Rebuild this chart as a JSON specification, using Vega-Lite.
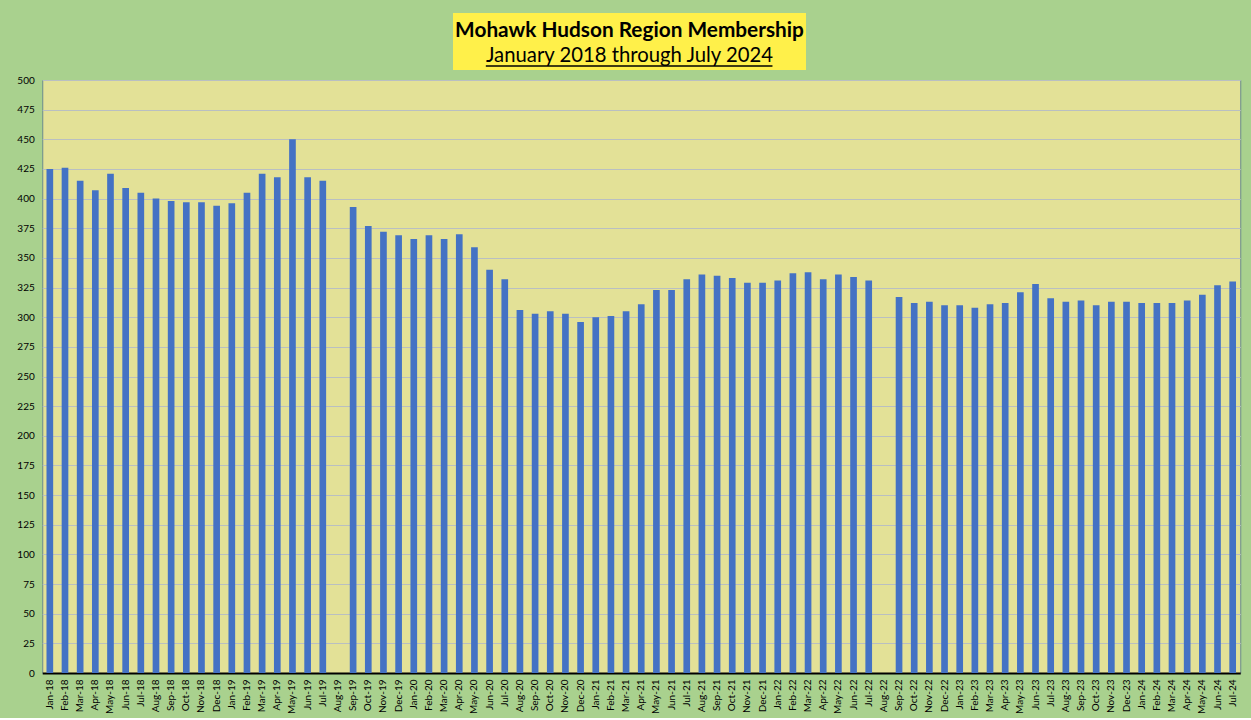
{
  "$schema": "https://vega.github.io/schema/vega-lite/v6.json",
  "background": "#a9d18e",
  "padding": {"left": 16, "top": 13, "right": 12, "bottom": 4},
  "autosize": {"type": "pad"},
  "center": true,
  "spacing": 4,
  "vconcat": [
    {
      "width": 353,
      "height": 57,
      "view": {"fill": "#fff04a", "stroke": null},
      "data": {"values": [{"title": "Mohawk Hudson Region Membership", "subtitle": "January 2018 through July 2024"}]},
      "layer": [
        {
          "mark": {"type": "text", "font": "Lato", "fontSize": 20.8, "fontWeight": "bold", "color": "#000000", "baseline": "middle", "align": "center", "dy": 2},
          "encoding": {
            "x": {"datum": 0.5, "type": "quantitative", "scale": {"domain": [0, 1]}, "axis": null},
            "y": {"datum": "title", "type": "nominal", "scale": {"type": "point", "domain": ["title", "subtitle"], "padding": 0.64},
                  "axis": {"orient": "right", "labels": false, "ticks": false, "domain": false, "grid": false, "title": null, "minExtent": 24, "maxExtent": 24}},
            "text": {"field": "title"}
          }
        },
        {
          "mark": {"type": "text", "font": "Lato", "fontSize": 20.3, "fontWeight": "normal", "color": "#000000", "baseline": "middle", "align": "center", "dy": 2},
          "encoding": {
            "x": {"datum": 0.5, "type": "quantitative"},
            "y": {"datum": "subtitle", "type": "nominal"},
            "text": {"field": "subtitle"}
          }
        },
        {
          "mark": {"type": "rule", "color": "#000000", "strokeWidth": 1.3, "yOffset": 12},
          "encoding": {
            "x": {"datum": 0.093, "type": "quantitative"},
            "x2": {"datum": 0.905},
            "y": {"datum": "subtitle", "type": "nominal"}
          }
        }
      ]
    },
    {
      "width": 1198,
      "height": 593,
      "view": {"fill": "#e3e197", "stroke": "#6a8a8e", "strokeWidth": 1},
      "data": {
        "values": [
          {"month": "Jan-18", "members": 425}, {"month": "Feb-18", "members": 426}, {"month": "Mar-18", "members": 415}, {"month": "Apr-18", "members": 407},
          {"month": "May-18", "members": 421}, {"month": "Jun-18", "members": 409}, {"month": "Jul-18", "members": 405}, {"month": "Aug-18", "members": 400},
          {"month": "Sep-18", "members": 398}, {"month": "Oct-18", "members": 397}, {"month": "Nov-18", "members": 397}, {"month": "Dec-18", "members": 394},
          {"month": "Jan-19", "members": 396}, {"month": "Feb-19", "members": 405}, {"month": "Mar-19", "members": 421}, {"month": "Apr-19", "members": 418},
          {"month": "May-19", "members": 450}, {"month": "Jun-19", "members": 418}, {"month": "Jul-19", "members": 415}, {"month": "Aug-19", "members": null},
          {"month": "Sep-19", "members": 393}, {"month": "Oct-19", "members": 377}, {"month": "Nov-19", "members": 372}, {"month": "Dec-19", "members": 369},
          {"month": "Jan-20", "members": 366}, {"month": "Feb-20", "members": 369}, {"month": "Mar-20", "members": 366}, {"month": "Apr-20", "members": 370},
          {"month": "May-20", "members": 359}, {"month": "Jun-20", "members": 340}, {"month": "Jul-20", "members": 332}, {"month": "Aug-20", "members": 306},
          {"month": "Sep-20", "members": 303}, {"month": "Oct-20", "members": 305}, {"month": "Nov-20", "members": 303}, {"month": "Dec-20", "members": 296},
          {"month": "Jan-21", "members": 300}, {"month": "Feb-21", "members": 301}, {"month": "Mar-21", "members": 305}, {"month": "Apr-21", "members": 311},
          {"month": "May-21", "members": 323}, {"month": "Jun-21", "members": 323}, {"month": "Jul-21", "members": 332}, {"month": "Aug-21", "members": 336},
          {"month": "Sep-21", "members": 335}, {"month": "Oct-21", "members": 333}, {"month": "Nov-21", "members": 329}, {"month": "Dec-21", "members": 329},
          {"month": "Jan-22", "members": 331}, {"month": "Feb-22", "members": 337}, {"month": "Mar-22", "members": 338}, {"month": "Apr-22", "members": 332},
          {"month": "May-22", "members": 336}, {"month": "Jun-22", "members": 334}, {"month": "Jul-22", "members": 331}, {"month": "Aug-22", "members": null},
          {"month": "Sep-22", "members": 317}, {"month": "Oct-22", "members": 312}, {"month": "Nov-22", "members": 313}, {"month": "Dec-22", "members": 310},
          {"month": "Jan-23", "members": 310}, {"month": "Feb-23", "members": 308}, {"month": "Mar-23", "members": 311}, {"month": "Apr-23", "members": 312},
          {"month": "May-23", "members": 321}, {"month": "Jun-23", "members": 328}, {"month": "Jul-23", "members": 316}, {"month": "Aug-23", "members": 313},
          {"month": "Sep-23", "members": 314}, {"month": "Oct-23", "members": 310}, {"month": "Nov-23", "members": 313}, {"month": "Dec-23", "members": 313},
          {"month": "Jan-24", "members": 312}, {"month": "Feb-24", "members": 312}, {"month": "Mar-24", "members": 312}, {"month": "Apr-24", "members": 314},
          {"month": "May-24", "members": 319}, {"month": "Jun-24", "members": 327}, {"month": "Jul-24", "members": 330}
        ]
      },
      "mark": {"type": "bar", "color": "#4472c4"},
      "encoding": {
        "x": {
          "field": "month",
          "type": "nominal",
          "sort": null,
          "scale": {
            "domain": ["Jan-18","Feb-18","Mar-18","Apr-18","May-18","Jun-18","Jul-18","Aug-18","Sep-18","Oct-18","Nov-18","Dec-18",
                       "Jan-19","Feb-19","Mar-19","Apr-19","May-19","Jun-19","Jul-19","Aug-19","Sep-19","Oct-19","Nov-19","Dec-19",
                       "Jan-20","Feb-20","Mar-20","Apr-20","May-20","Jun-20","Jul-20","Aug-20","Sep-20","Oct-20","Nov-20","Dec-20",
                       "Jan-21","Feb-21","Mar-21","Apr-21","May-21","Jun-21","Jul-21","Aug-21","Sep-21","Oct-21","Nov-21","Dec-21",
                       "Jan-22","Feb-22","Mar-22","Apr-22","May-22","Jun-22","Jul-22","Aug-22","Sep-22","Oct-22","Nov-22","Dec-22",
                       "Jan-23","Feb-23","Mar-23","Apr-23","May-23","Jun-23","Jul-23","Aug-23","Sep-23","Oct-23","Nov-23","Dec-23",
                       "Jan-24","Feb-24","Mar-24","Apr-24","May-24","Jun-24","Jul-24"],
            "paddingInner": 0.56,
            "paddingOuter": 0.28
          },
          "axis": {
            "title": null,
            "labelAngle": -90,
            "labelFont": "Lato",
            "labelFontSize": 10,
            "labelColor": "#000000",
            "labelPadding": 6,
            "ticks": false,
            "domainColor": "#000000",
            "domainWidth": 2,
            "labelOverlap": false
          }
        },
        "y": {
          "field": "members",
          "type": "quantitative",
          "scale": {"domain": [0, 500], "nice": false},
          "axis": {
            "title": null,
            "values": [0,25,50,75,100,125,150,175,200,225,250,275,300,325,350,375,400,425,450,475,500],
            "grid": true,
            "gridColor": "#b9bfc2",
            "gridWidth": 1.2,
            "domain": false,
            "ticks": false,
            "labelPadding": 8,
            "labelFont": "Lato",
            "labelFontSize": 10,
            "labelColor": "#000000",
            "labelOverlap": false
          }
        }
      }
    }
  ]
}
